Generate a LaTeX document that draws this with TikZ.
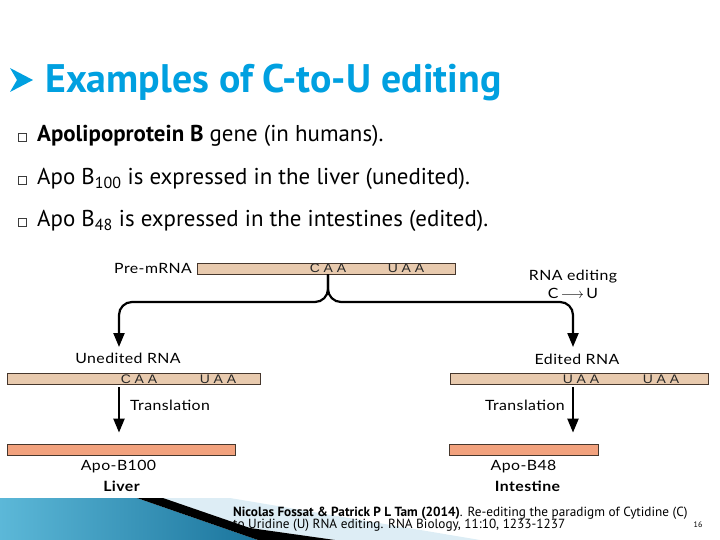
\documentclass[tikz,border=0pt]{standalone}
\usepackage{fontspec}
\setmainfont{PT Sans}
\newfontfamily\slidefont{PT Sans}
\newfontfamily\labfont[FakeStretch=1.12,LetterSpace=3]{Lato}
\newfontfamily\codonfont[FakeStretch=1.12,LetterSpace=30]{Liberation Sans}
\usetikzlibrary{arrows.meta, positioning, calc}
\definecolor{TitleBlue}{RGB}{0,160,224}
\definecolor{Tan}{RGB}{232,202,174}
\definecolor{Salmon}{RGB}{242,162,126}
\definecolor{BarEdge}{RGB}{70,55,45}
\definecolor{TickGray}{RGB}{60,60,60}
\definecolor{DeepTeal}{RGB}{26,116,156}
\definecolor{SkyTeal}{RGB}{92,184,216}
\definecolor{PaleSky}{RGB}{212,233,242}

\begin{document}
\begin{tikzpicture}[x=1bp, y=-1bp,
    bar/.style={rectangle, draw=BarEdge, line width=0.8bp, inner sep=0pt, minimum height=10.5bp},
    codon/.style={anchor=base, inner sep=0pt, text=black!85, font=\codonfont\fontsize{12.5}{12.5}\selectfont},
    lab/.style={anchor=base, inner sep=0pt, font=\labfont\fontsize{14.2}{14.2}\selectfont},
    labbold/.style={lab, font=\labfont\bfseries\fontsize{14.2}{14.2}\selectfont},
    item/.style={anchor=base west, inner sep=0pt, font=\slidefont\fontsize{23}{23}\selectfont},
    tickbox/.style={draw=TickGray, line width=0.6bp, minimum size=7.5bp, inner sep=0pt},
    flow/.style={-{Triangle[length=14bp,width=11bp]}, line width=2.2bp},
    cite/.style={anchor=base west, inner sep=0pt, font=\slidefont\fontsize{13.3}{12}\selectfont}
  ]
  \useasboundingbox (0,0) rectangle (720,540);

  % heading
  \fill[TitleBlue] (10,68) -- (33,80) -- (10,92) -- (17,80) -- cycle;
  \node[anchor=base west, inner sep=0pt, text=TitleBlue,
        font=\slidefont\bfseries\fontsize{40}{40}\selectfont] (title) at (45,92.5) {Examples of C-to-U editing};

  % bullet list
  \foreach \yy/\nm in {142/one, 185/two, 227/three}
    \node[tickbox] (tick\nm) at (22.5,\yy-4.5) {};
  \node[item] (itemone) at (37,142) {\textbf{Apolipoprotein B} gene (in humans).};
  \node[item] (itemtwo) at (37,185) {Apo B\textsubscript{100} is expressed in the liver (unedited).};
  \node[item] (itemthree) at (37,227) {Apo B\textsubscript{48} is expressed in the intestines (edited).};

  % pre-mRNA
  \node[bar, fill=Tan, minimum width=258bp] (pre) at (326,268.75) {};
  \node[codon] (preC) at (328,273) {CAA};
  \node[codon] (preU) at (406,273) {UAA};
  \node[lab, anchor=east, left=4.5bp of pre] (prelab) {Pre-mRNA};
  \node[lab] (editlab) at (573,281) {RNA editing};
  \node[lab] (editrule) at (573,298.5) {C\,$\longrightarrow$\,U};

  % the two transcripts
  \node[bar, fill=Tan, minimum width=253bp, minimum height=11bp] (unbar) at (133.5,378.5) {};
  \node[codon] (unC) at (139,383) {CAA};
  \node[codon] (unU) at (218,383) {UAA};
  \node[lab] (unlab) at (128,363.5) {Unedited RNA};
  \node[bar, fill=Tan, minimum width=258bp, minimum height=11bp] (edbar) at (579,378.5) {};
  \node[codon] (edU) at (581,383) {UAA};
  \node[codon] (edUU) at (661,383) {UAA};
  \node[lab] (edlab) at (577,364) {Edited RNA};

  % proteins
  \node[bar, fill=Salmon, minimum width=228bp, minimum height=11bp] (b100) at (121,449.5) {};
  \node[bar, fill=Salmon, minimum width=149bp, minimum height=11bp] (b48) at (523.5,449.5) {};
  \node[lab] (b100lab) at (118.5,470.5) {Apo-B100};
  \node[lab] (b48lab) at (523.5,470.5) {Apo-B48};
  \node[labbold] (liver) at (121.5,491.5) {Liver};
  \node[labbold] (intestine) at (527.5,491.5) {Intestine};
  \node[lab, anchor=base west] (trleft) at (130,410.5) {Translation};
  \node[lab, anchor=base east] (trright) at (565,410.5) {Translation};

  % arrows
  \coordinate (lhit) at (119,347);
  \coordinate (rhit) at (573,347);
  \draw[flow, rounded corners=13bp] (preC.south |- pre.south) |- (lhit |- 0,302) -- (lhit);
  \draw[flow, rounded corners=13bp] (preC.south |- pre.south) |- (rhit |- 0,302) -- (rhit);
  \draw[flow, shorten <=3bp, shorten >=11bp] (unbar.south -| lhit) -- (b100.north -| lhit);
  \draw[flow, shorten <=3bp, shorten >=11bp] (edbar.south -| rhit) -- (b48.north -| rhit);

  % reference and footer band
  \fill[PaleSky, opacity=0.8] (163,498) -- (230,498) -- (480,540) -- (335,540) -- (250,528) -- cycle;
  \node[cite] (citeone) at (233,516) {\textbf{Nicolas Fossat \& Patrick P L Tam (2014)}. Re-editing the paradigm of Cytidine (C)};
  \node[cite] (citetwo) at (233,528) {to Uridine (U) RNA editing. RNA Biology, 11:10, 1233-1237};
  \node[anchor=base, inner sep=0pt, font=\slidefont\fontsize{8}{8}\selectfont] (pagenum) at (698,527) {16};
  \shade[left color=SkyTeal, right color=DeepTeal] (0,498) -- (137,498) -- (258,540) -- (0,540) -- cycle;
  \fill[black] (137,498) -- (163,498) -- (250,528) -- (335,540) -- (258,540) -- cycle;
\end{tikzpicture}
\end{document}
